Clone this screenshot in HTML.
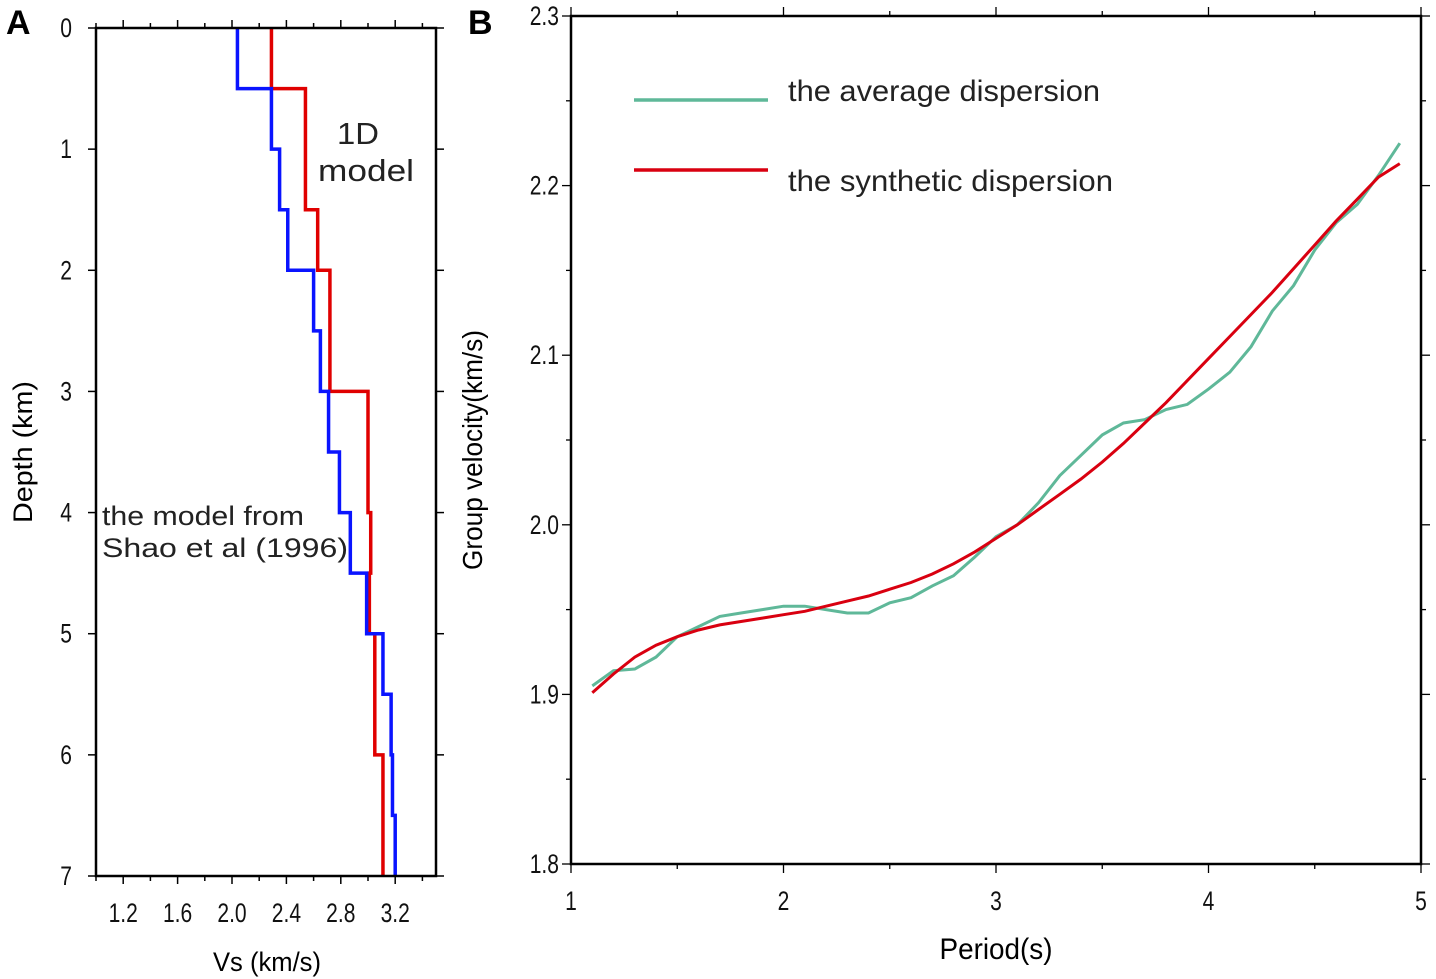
<!DOCTYPE html>
<html><head><meta charset="utf-8"><style>
html,body{margin:0;padding:0;background:#fff}
svg{display:block;font-family:"Liberation Sans Narrow","Liberation Sans",Arial,sans-serif}
</style></head><body>
<svg id="fig" width="1436" height="979" viewBox="0 0 1436 979">
<text x="6" y="34" font-size="34" font-weight="bold" font-family="Liberation Sans, sans-serif">A</text>
<text x="468" y="34" font-size="34" font-weight="bold" font-family="Liberation Sans, sans-serif">B</text>
<g id="pa"></g>
<g id="pb"></g>
</svg>
<script>
// Panel A data
const blueTops = [0,0.5,1.0,1.5,2.0,2.5,3.0,3.5,4.0,4.5,5.0,5.5,6.0,6.5];
const blueVs   = [2.04,2.29,2.35,2.41,2.60,2.65,2.71,2.79,2.87,2.99,3.11,3.17,3.18,3.20];
const redTops  = [0,0.5,1.5,2.0,3.0,4.0,4.5,5.0,6.0];
const redVs    = [2.29,2.54,2.63,2.72,3.00,3.02,3.01,3.05,3.11];
const aXTicks  = [1.2,1.6,2.0,2.4,2.8,3.2];
const aYTicks  = [0,1,2,3,4,5,6,7];
// Panel B data
const periods = [1.1,1.2,1.3,1.4,1.5,1.6,1.7,1.8,1.9,2.0,2.1,2.2,2.3,2.4,2.5,2.6,2.7,2.8,2.9,3.0,3.1,3.2,3.3,3.4,3.5,3.6,3.7,3.8,3.9,4.0,4.1,4.2,4.3,4.4,4.5,4.6,4.7,4.8,4.9];
const avgDisp = [1.905,1.914,1.915,1.922,1.934,1.940,1.946,1.948,1.950,1.952,1.952,1.950,1.948,1.948,1.954,1.957,1.964,1.970,1.981,1.993,2.000,2.013,2.029,2.041,2.053,2.060,2.062,2.068,2.071,2.080,2.090,2.105,2.126,2.141,2.162,2.178,2.189,2.206,2.225];
const synDisp = [1.901,1.912,1.922,1.929,1.934,1.938,1.941,1.943,1.945,1.947,1.949,1.952,1.955,1.958,1.962,1.966,1.971,1.977,1.984,1.992,2.000,2.009,2.018,2.027,2.037,2.048,2.060,2.072,2.085,2.098,2.111,2.124,2.137,2.151,2.165,2.179,2.192,2.205,2.213];
const bXTicks = [1,2,3,4,5];
const bYTicks = [1.8,1.9,2.0,2.1,2.2,2.3];

const NS="http://www.w3.org/2000/svg";
function mk(parent,tag,attrs,text){const e=document.createElementNS(NS,tag);for(const k in attrs)e.setAttribute(k,attrs[k]);if(text!==undefined)e.textContent=text;parent.appendChild(e);return e;}
function ntext(parent,x,y,size,anchor,str){
  return mk(parent,'text',{x:0,y:0,'font-size':size,'text-anchor':anchor,fill:'#111',transform:'translate('+x+','+y+') scale(0.78,1)'},str);
}

// ---------- Panel A ----------
const pa=document.getElementById('pa');
const AL=96,AR=436,AT=28,AB=876;
const ax=v=>AL+(v-1.0)/(3.5-1.0)*(AR-AL);
const ay=d=>AT+d/7*(AB-AT);
for(let v=1.0;v<=3.501;v+=0.2){
  const major=Math.abs(((v-1.2)/0.4)-Math.round((v-1.2)/0.4))<1e-6;
  const L=major?8:5;
  let t=mk(pa,'line',{x1:ax(v),x2:ax(v),y1:AT,y2:AT-L,stroke:'#000','stroke-width':1.5});
  
  t=mk(pa,'line',{x1:ax(v),x2:ax(v),y1:AB,y2:AB+L,stroke:'#000','stroke-width':1.5});
  
}
aXTicks.forEach(v=>{
  const t=ntext(pa,ax(v),922,27,'middle',v.toFixed(1));
  
});
aYTicks.forEach(d=>{
  let t=mk(pa,'line',{x1:AL,x2:AL-8,y1:ay(d),y2:ay(d),stroke:'#000','stroke-width':1.5});
  
  t=mk(pa,'line',{x1:AR,x2:AR+8,y1:ay(d),y2:ay(d),stroke:'#000','stroke-width':1.5});
  
  t=ntext(pa,72,ay(d)+9,27,'end',String(d));
  
});
function stepPath(tops,vs){
  let p='';
  for(let i=0;i<tops.length;i++){
    const bot=i+1<tops.length?tops[i+1]:7;
    p+=(i===0?'M':'L')+ax(vs[i])+','+ay(tops[i])+' L'+ax(vs[i])+','+ay(bot)+' ';
  }
  return p;
}
let e=mk(pa,'path',{d:stepPath(redTops,redVs),fill:'none',stroke:'#e00000','stroke-width':3.5});

e=mk(pa,'path',{d:stepPath(blueTops,blueVs),fill:'none',stroke:'#0a14ff','stroke-width':3.5});

e=mk(pa,'rect',{x:AL,y:AT,width:AR-AL,height:AB-AT,fill:'none',stroke:'#000','stroke-width':2.5});

e=mk(pa,'text',{x:337,y:144,'font-size':31,fill:'#222','font-family':'Liberation Sans, sans-serif',textLength:42,lengthAdjust:'spacingAndGlyphs'},'1D');

e=mk(pa,'text',{x:318,y:181,'font-size':31,fill:'#222','font-family':'Liberation Sans, sans-serif',textLength:96,lengthAdjust:'spacingAndGlyphs'},'model');

e=mk(pa,'text',{x:102,y:525,'font-size':27,fill:'#222','font-family':'Liberation Sans, sans-serif',textLength:202,lengthAdjust:'spacingAndGlyphs'},'the model from');

e=mk(pa,'text',{x:102,y:557,'font-size':27,fill:'#222','font-family':'Liberation Sans, sans-serif','xml:space':'preserve',textLength:246,lengthAdjust:'spacingAndGlyphs'},'Shao et al   (1996)');

e=mk(pa,'text',{x:267,y:971,'font-size':27,'text-anchor':'middle',textLength:108,lengthAdjust:'spacingAndGlyphs'},'Vs (km/s)');

e=mk(pa,'text',{x:0,y:0,'font-size':27,'text-anchor':'middle',transform:'translate(32,452) rotate(-90)',textLength:142,lengthAdjust:'spacingAndGlyphs'},'Depth (km)');


// ---------- Panel B ----------
const pb=document.getElementById('pb');
const BL=571,BR=1421,BT=16,BB=864;
const bx=p=>BL+(p-1)/4*(BR-BL);
const by=v=>BB-(v-1.8)/0.5*(BB-BT);
for(let p=1;p<=5.001;p+=0.5){
  const major=Math.abs(p-Math.round(p))<1e-6;const L=major?9:5;
  let t=mk(pb,'line',{x1:bx(p),x2:bx(p),y1:BB,y2:BB+L,stroke:'#000','stroke-width':1.3});
  
  t=mk(pb,'line',{x1:bx(p),x2:bx(p),y1:BT,y2:BT-L,stroke:'#000','stroke-width':1.3});
  
}
for(let v=1.8;v<=2.3001;v+=0.05){
  const major=Math.abs(v*10-Math.round(v*10))<1e-6;const L=major?9:5;
  let t=mk(pb,'line',{x1:BL,x2:BL-L,y1:by(v),y2:by(v),stroke:'#000','stroke-width':1.3});
  
  t=mk(pb,'line',{x1:BR,x2:BR+L,y1:by(v),y2:by(v),stroke:'#000','stroke-width':1.3});
  
}
bXTicks.forEach(p=>{
  const t=ntext(pb,bx(p),910,27,'middle',String(p));
  
});
bYTicks.forEach(v=>{
  const t=ntext(pb,559,by(v)+9,27,'end',v.toFixed(1));
  
});
const lineD=vals=>periods.map((p,i)=>(i?'L':'M')+bx(p).toFixed(1)+','+by(vals[i]).toFixed(1)).join(' ');
e=mk(pb,'path',{d:lineD(avgDisp),fill:'none',stroke:'#5fb899','stroke-width':3});

e=mk(pb,'path',{d:lineD(synDisp),fill:'none',stroke:'#d90010','stroke-width':3});

e=mk(pb,'rect',{x:BL,y:BT,width:BR-BL,height:BB-BT,fill:'none',stroke:'#000','stroke-width':2.5});

e=mk(pb,'line',{x1:634,x2:768,y1:100,y2:100,stroke:'#5fb899','stroke-width':3.5});

e=mk(pb,'text',{x:788,y:101,'font-size':30,fill:'#222',textLength:312,lengthAdjust:'spacingAndGlyphs'},'the average dispersion');

e=mk(pb,'line',{x1:634,x2:768,y1:170,y2:170,stroke:'#d90010','stroke-width':3.5});

e=mk(pb,'text',{x:788,y:191,'font-size':30,fill:'#222',textLength:325,lengthAdjust:'spacingAndGlyphs'},'the synthetic dispersion');

e=mk(pb,'text',{x:996,y:959,'font-size':30,'text-anchor':'middle',textLength:113,lengthAdjust:'spacingAndGlyphs'},'Period(s)');

e=mk(pb,'text',{x:0,y:0,'font-size':28,'text-anchor':'middle',transform:'translate(482,450) rotate(-90)',textLength:240,lengthAdjust:'spacingAndGlyphs'},'Group velocity(km/s)');

</script>
</body></html>
